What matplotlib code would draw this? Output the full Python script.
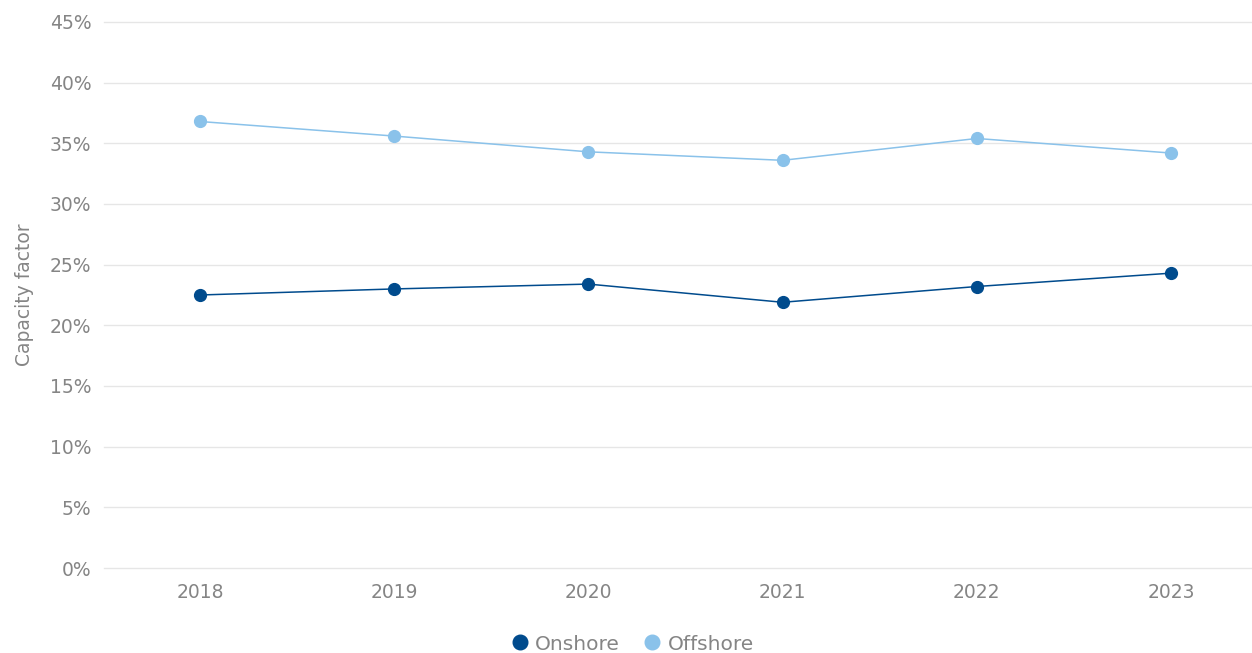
import matplotlib
matplotlib.use("Agg")
import matplotlib.pyplot as plt
from matplotlib.ticker import FuncFormatter, MultipleLocator
from matplotlib.lines import Line2D

years = ["2018", "2019", "2020", "2021", "2022", "2023"]
onshore = [22.5, 23.0, 23.4, 21.9, 23.2, 24.3]
offshore = [36.8, 35.6, 34.3, 33.6, 35.4, 34.2]

c_on = "#004b8d"
c_off = "#8ac2ea"
txt = "#858585"

plt.rcParams['font.family'] = ['DejaVu Sans']
fig = plt.figure(figsize=(12.52, 6.53), dpi=100)
ax = fig.add_axes([104/1252, 85/653, 1 - 104/1252, 546/653])

x = list(range(len(years)))
ax.plot(x, onshore, color=c_on, lw=1.1, marker='o', ms=8.5, zorder=3, label="Onshore")
ax.plot(x, offshore, color=c_off, lw=1.1, marker='o', ms=8.5, zorder=3, label="Offshore")

ax.set_xlim(-0.494, 5.417)
ax.set_ylim(0, 45)
ax.yaxis.set_major_locator(MultipleLocator(5))
ax.yaxis.set_major_formatter(FuncFormatter(lambda v, p: f"{v:.0f}%"))
ax.set_xticks(x)
ax.set_xticklabels(years)
ax.grid(axis='y', color='#e6e6e6', lw=1)
for ln in ax.get_ygridlines():
    ln.set_clip_on(False)
ax.set_axisbelow(True)
for s in ax.spines.values():
    s.set_visible(False)
ax.tick_params(axis='both', length=0, colors=txt, labelsize=13.5)
ax.tick_params(axis='y', pad=9)
ax.tick_params(axis='x', pad=11)
ax.set_ylabel("Capacity factor", color=txt, fontsize=13.5)
ax.yaxis.set_label_coords(-70/1148, 0.5)

handles = [Line2D([], [], color=c_on, marker='o', ls='none', ms=10.5),
           Line2D([], [], color=c_off, marker='o', ls='none', ms=10.5)]
leg = fig.legend(handles, ["Onshore", "Offshore"], loc='center', bbox_to_anchor=(632/1252, 1 - 644/653),
                 ncol=2, frameon=False, fontsize=14.5, handletextpad=0.25, columnspacing=1.1,
                 handlelength=1.0, borderaxespad=0)
for t in leg.get_texts():
    t.set_color(txt)

fig.savefig("out.png", dpi=100)
